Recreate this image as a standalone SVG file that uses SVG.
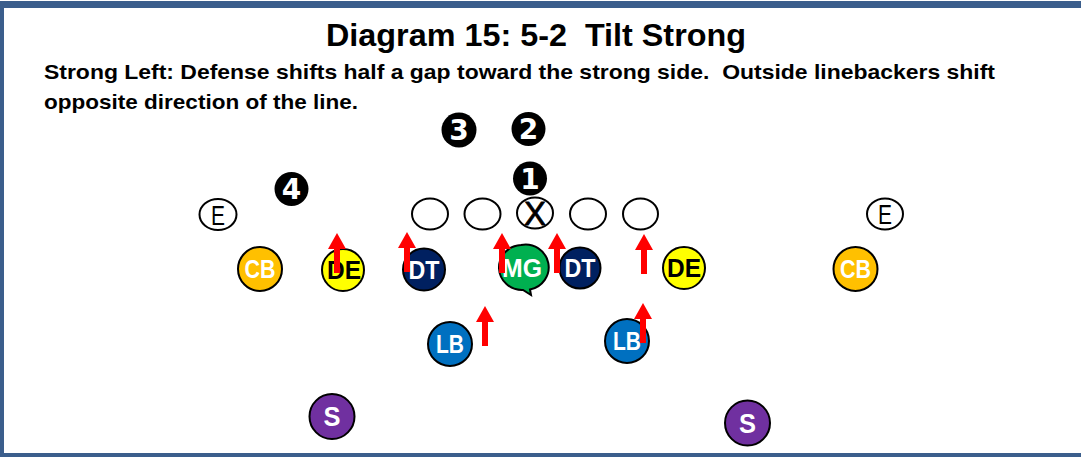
<svg xmlns="http://www.w3.org/2000/svg" width="1081" height="457" viewBox="0 0 1081 457">
<style>
.title{font-family:"Liberation Sans",Arial,sans-serif;font-weight:bold;font-size:31px;fill:#000;white-space:pre}
.sub{font-family:"Liberation Sans",Arial,sans-serif;font-weight:bold;font-size:21px;fill:#000;white-space:pre}
.num circle{fill:#000}
.num text{font-family:"DejaVu Sans",sans-serif;font-weight:bold;font-size:28px;fill:#fff;text-anchor:middle}
.off ellipse{fill:#fff;stroke:#000;stroke-width:2}
.off text{font-family:"Liberation Sans",Arial,sans-serif;font-size:27px;fill:#000;text-anchor:middle}
.def circle{stroke:#000;stroke-width:2}
.def text{font-family:"Liberation Sans",Arial,sans-serif;font-weight:bold;font-size:25px;fill:#fff;text-anchor:middle}
.arrow{fill:#ff0000}
</style>
<defs>
<path id="arr" d="M0,0 L9,16 L3,16 L3,40 L-3,40 L-3,16 L-9,16 Z"/>
</defs>
<rect x="0" y="0" width="1081" height="457" fill="#fff"/>
<rect x="0" y="1" width="1081" height="7" fill="#3B5E8C"/>
<rect x="0" y="1" width="4" height="456" fill="#3B5E8C"/>
<rect x="0" y="453" width="1081" height="4" fill="#3B5E8C"/>

<text class="title" x="536" y="46" text-anchor="middle" textLength="420" lengthAdjust="spacingAndGlyphs">Diagram 15: 5-2  Tilt Strong</text>
<text class="sub" x="44" y="79" textLength="951" lengthAdjust="spacingAndGlyphs">Strong Left: Defense shifts half a gap toward the strong side.  Outside linebackers shift</text>
<text class="sub" x="44" y="109" textLength="314" lengthAdjust="spacingAndGlyphs">opposite direction of the line.</text>

<g id="num3" class="num"><circle cx="459" cy="130" r="17.5"/><text x="459" y="140">3</text></g>
<g id="num2" class="num"><circle cx="528.5" cy="129" r="17"/><text x="528.5" y="139">2</text></g>
<g id="num1" class="num"><circle cx="530" cy="178.5" r="17"/><text x="530" y="188.5">1</text></g>
<g id="num4" class="num"><circle cx="291.5" cy="189" r="17"/><text x="291.5" y="199">4</text></g>

<g id="e-left" class="off"><ellipse cx="218" cy="214.5" rx="18.5" ry="15.5"/><text x="218" y="224.5" textLength="14" lengthAdjust="spacingAndGlyphs">E</text></g>
<g id="ol1" class="off"><ellipse cx="430" cy="214" rx="18" ry="15.5"/></g>
<g id="ol2" class="off"><ellipse cx="482.5" cy="214" rx="18" ry="15.5"/></g>
<g id="center" class="off"><ellipse cx="535" cy="213" rx="18" ry="15.5"/><text x="535" y="225" style="font-size:33px;stroke:#000;stroke-width:0.8" textLength="22" lengthAdjust="spacingAndGlyphs">X</text></g>
<g id="ol4" class="off"><ellipse cx="588" cy="214" rx="18" ry="15.5"/></g>
<g id="ol5" class="off"><ellipse cx="640.5" cy="214" rx="17.5" ry="15.5"/></g>
<g id="e-right" class="off"><ellipse cx="885" cy="214" rx="18" ry="15.5"/><text x="885" y="224" textLength="14" lengthAdjust="spacingAndGlyphs">E</text></g>

<g id="cb-left" class="def"><circle cx="260" cy="269" r="22" fill="#FFC000"/><text x="260" y="278" textLength="31" lengthAdjust="spacingAndGlyphs">CB</text></g>
<g id="de-left" class="def"><circle cx="343" cy="270" r="21" fill="#FFFF00"/><text x="344" y="279" style="fill:#000" textLength="34" lengthAdjust="spacingAndGlyphs">DE</text></g>
<g id="dt-left" class="def"><circle cx="424" cy="269.5" r="21" fill="#002060"/><text x="424" y="278.5" textLength="31" lengthAdjust="spacingAndGlyphs">DT</text></g>
<g id="mg" class="def"><path d="M521,245 A23,22.5 0 1 1 530,289.5 L531,295 L523,290 A23,22.5 0 0 1 521,245 Z" fill="#00B050" stroke="#000" stroke-width="2"/><text x="522" y="277" textLength="40" lengthAdjust="spacingAndGlyphs">MG</text></g>
<g id="dt-right" class="def"><circle cx="580" cy="268" r="20.5" fill="#002060"/><text x="580" y="277" textLength="31" lengthAdjust="spacingAndGlyphs">DT</text></g>
<g id="de-right" class="def"><circle cx="684" cy="268" r="21" fill="#FFFF00"/><text x="684" y="277" style="fill:#000" textLength="34" lengthAdjust="spacingAndGlyphs">DE</text></g>
<g id="cb-right" class="def"><circle cx="855.5" cy="269" r="22" fill="#FFC000"/><text x="855.5" y="278" textLength="31" lengthAdjust="spacingAndGlyphs">CB</text></g>
<g id="lb-left" class="def"><circle cx="450" cy="344" r="22" fill="#0070C0"/><text x="450" y="353" textLength="28" lengthAdjust="spacingAndGlyphs">LB</text></g>
<g id="lb-right" class="def"><circle cx="627" cy="341" r="22" fill="#0070C0"/><text x="627" y="350" textLength="28" lengthAdjust="spacingAndGlyphs">LB</text></g>
<g id="s-left" class="def"><circle cx="332" cy="416.5" r="22.5" fill="#7030A0"/><text x="332" y="426" style="font-size:27px" textLength="17" lengthAdjust="spacingAndGlyphs">S</text></g>
<g id="s-right" class="def"><circle cx="747.5" cy="423" r="22.5" fill="#7030A0"/><text x="747.5" y="432.5" style="font-size:27px" textLength="17" lengthAdjust="spacingAndGlyphs">S</text></g>

<g id="connectors" class="arrow">
<use href="#arr" x="337" y="233"/>
<use href="#arr" x="407" y="232"/>
<use href="#arr" x="502" y="233"/>
<use href="#arr" x="557" y="233"/>
<use href="#arr" x="644" y="234"/>
<use href="#arr" x="485" y="306"/>
<use href="#arr" x="643" y="303"/>
</g>
</svg>
